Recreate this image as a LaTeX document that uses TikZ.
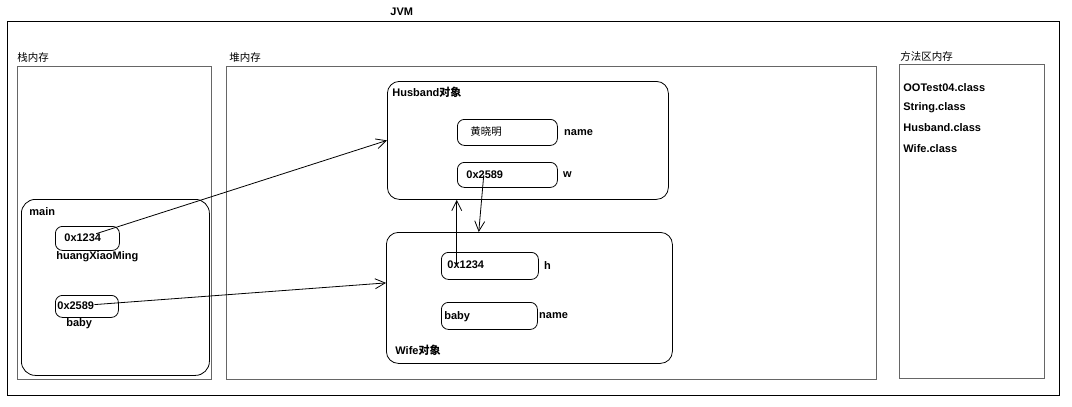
\documentclass[tikz,border=0pt]{standalone}
\usepackage{fontspec}
\setmainfont{Liberation Sans}
\newfontfamily\cjk{Noto Sans CJK SC}
\usetikzlibrary{positioning,arrows.meta}

\begin{document}
\begin{tikzpicture}[x=1pt,y=-1pt,->,>={Straight Barb[length=10pt,width=10pt]},thick,
  region/.style={draw=black!60,line width=1.1pt,anchor=north west,inner sep=0pt},
  obj/.style={draw,rounded corners=12pt,anchor=north west,inner sep=0pt},
  cell/.style={draw,rounded corners=7pt,anchor=north west,inner sep=0pt},
  lbl/.style={anchor=west,inner sep=0pt,font=\bfseries\fontsize{11}{13}\selectfont},
  zh/.style={anchor=west,inner sep=0pt,font=\cjk\fontsize{10.5}{12}\selectfont}]
  \useasboundingbox (0,0) rectangle (1072,407);

  % memory areas
  \node[region,draw=black,line width=0.8pt,minimum width=1052pt,minimum height=374pt] (jvm) at (7,21) {};
  \node[lbl] (jvml) at (390,12) {JVM};
  \node[region,minimum width=194pt,minimum height=313pt] (stack) at (17,66) {};
  \node[zh] (stackl) at (17,58) {栈内存};
  \node[region,minimum width=650pt,minimum height=313pt] (heap) at (226,66) {};
  \node[zh] (heapl) at (229,58) {堆内存};
  \node[region,minimum width=145pt,minimum height=314pt] (method) at (899,64) {};
  \node[zh] (methodl) at (900,56) {方法区内存};
  \foreach \cls [count=\i] in {OOTest04,String,Husband,Wife}
    \node[lbl] (cls\i) at (903,67+20.3*\i) {\cls.class};

  % stack frame
  \node[obj,rounded corners=14pt,minimum width=188pt,minimum height=176pt] (main) at (21,199) {};
  \node[lbl] (mainl) at (29,212) {main};
  \node[cell,minimum width=64pt,minimum height=24pt] (ref1) at (55,226) {};
  \node[lbl] (ref1t) at (64,238) {0x1234};
  \node[lbl] (ref1l) at (56,257) {huangXiaoMing};
  \node[cell,minimum width=63pt,minimum height=22pt] (ref2) at (55,295) {};
  \node[lbl] (ref2t) at (57,306) {0x2589};
  \node[lbl] (ref2l) at (66,324) {baby};

  % heap objects
  \node[obj,minimum width=281pt,minimum height=118pt] (husband) at (387,81) {};
  \node[lbl] (husbandl) at (392,92) {Husband{\cjk 对象}};
  \node[cell,minimum width=100pt,minimum height=26pt] (hname) at (457,119) {};
  \node[zh] (hnamet) at (470,132) {黄晓明};
  \node[lbl,right=6pt of hname] (hnamel) {name};
  \node[cell,minimum width=100pt,minimum height=25pt] (hw) at (457,162) {};
  \node[lbl] (hwt) at (466,175) {0x2589};
  \node[lbl,right=5pt of hw] (hwl) {w};

  \node[obj,minimum width=286pt,minimum height=131pt] (wife) at (386,232) {};
  \node[lbl] (wifel) at (395,350) {Wife{\cjk 对象}};
  \node[cell,minimum width=97pt,minimum height=27pt] (wh) at (441,252) {};
  \node[lbl] (wht) at (447,265) {0x1234};
  \node[lbl,right=5pt of wh] (whl) {h};
  \node[cell,minimum width=96pt,minimum height=27pt] (wname) at (441,302) {};
  \node[lbl] (wnamet) at (444,317) {baby};
  \node[lbl,right=1pt of wname] (wnamel) {name};

  \path
    (ref1t) edge (husband.west)
    (ref2t) edge ([yshift=15pt]wife.west)
    ([xshift=-9pt]wht.center) edge ([xshift=-9pt]wht.center |- husband.south)
    ([xshift=-1pt]hwt.center) edge ([xshift=-6pt]hwt.center |- wife.north);
\end{tikzpicture}
\end{document}
